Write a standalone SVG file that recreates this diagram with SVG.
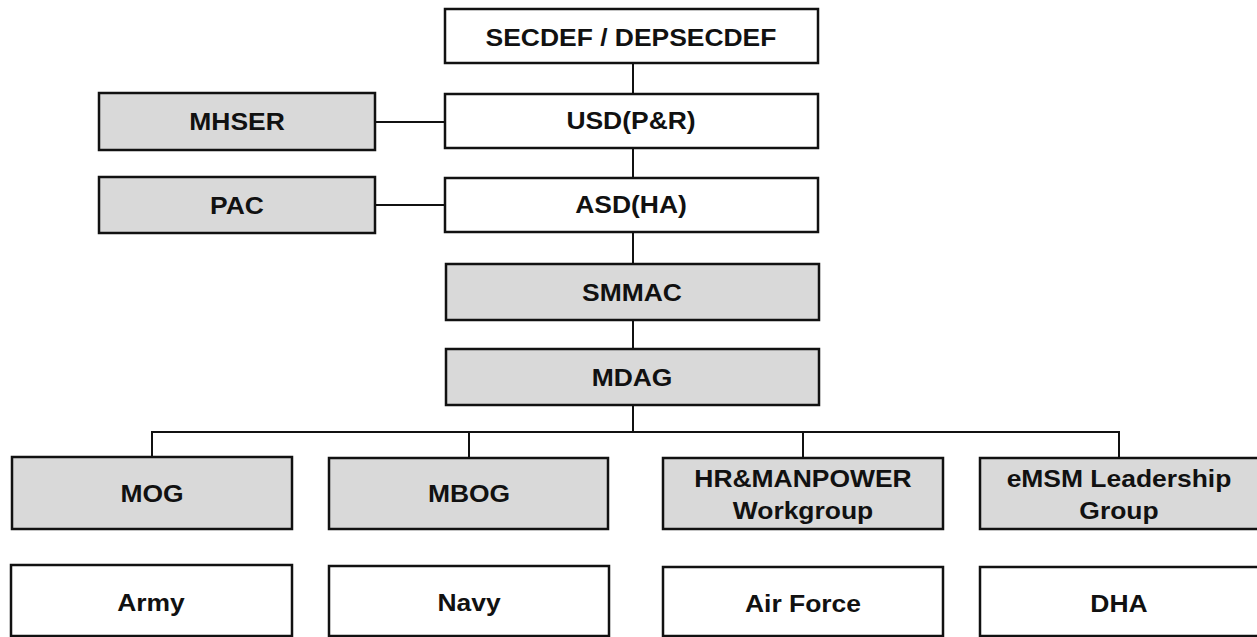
<svg xmlns="http://www.w3.org/2000/svg" width="1257" height="637" viewBox="0 0 1257 637">
<style>
.box{stroke:#111;stroke-width:2.5;}
.w{fill:#fff;}
.g{fill:#d9d9d9;}
.t{font-family:"Liberation Sans",Arial,sans-serif;font-weight:bold;font-size:23px;fill:#111;text-anchor:middle;}
.c{stroke:#111;stroke-width:2;fill:none;}
</style>
<rect width="1257" height="637" fill="#fff"/>
<g id="connectors">
<line class="c" x1="633" y1="63" x2="633" y2="94"/>
<line class="c" x1="633" y1="148" x2="633" y2="178"/>
<line class="c" x1="633" y1="232" x2="633" y2="264"/>
<line class="c" x1="633" y1="320" x2="633" y2="349"/>
<line class="c" x1="633" y1="405" x2="633" y2="432"/>
<line class="c" x1="375" y1="122" x2="445" y2="122"/>
<line class="c" x1="375" y1="205" x2="445" y2="205"/>
<polyline class="c" points="152,457 152,432 1119,432 1119,458"/>
<line class="c" x1="469" y1="432" x2="469" y2="458"/>
<line class="c" x1="803" y1="432" x2="803" y2="458"/>
</g>
<g id="secdef"><rect class="box w" x="445" y="9" width="373" height="54"/><text class="t" transform="translate(631,46) scale(1.15,1)">SECDEF / DEPSECDEF</text></g>
<g id="usd"><rect class="box w" x="445" y="94" width="373" height="54"/><text class="t" transform="translate(631,129) scale(1.15,1)">USD(P&amp;R)</text></g>
<g id="asd"><rect class="box w" x="445" y="178" width="373" height="54"/><text class="t" transform="translate(631,213) scale(1.15,1)">ASD(HA)</text></g>
<g id="mhser"><rect class="box g" x="99" y="93" width="276" height="57"/><text class="t" transform="translate(237,130) scale(1.15,1)">MHSER</text></g>
<g id="pac"><rect class="box g" x="99" y="177" width="276" height="56"/><text class="t" transform="translate(237,214) scale(1.15,1)">PAC</text></g>
<g id="smmac"><rect class="box g" x="446" y="264" width="373" height="56"/><text class="t" transform="translate(632,301) scale(1.15,1)">SMMAC</text></g>
<g id="mdag"><rect class="box g" x="446" y="349" width="373" height="56"/><text class="t" transform="translate(632,386) scale(1.15,1)">MDAG</text></g>
<g id="mog"><rect class="box g" x="12" y="457" width="280" height="72"/><text class="t" transform="translate(152,502) scale(1.15,1)">MOG</text></g>
<g id="mbog"><rect class="box g" x="329" y="458" width="279" height="71"/><text class="t" transform="translate(469,502) scale(1.15,1)">MBOG</text></g>
<g id="hr"><rect class="box g" x="663" y="458" width="280" height="71"/><text class="t" transform="translate(803,487) scale(1.15,1)">HR&amp;MANPOWER</text><text class="t" transform="translate(803,519) scale(1.15,1)">Workgroup</text></g>
<g id="emsm"><rect class="box g" x="980" y="458" width="280" height="71"/><text class="t" transform="translate(1119,487) scale(1.15,1)">eMSM Leadership</text><text class="t" transform="translate(1119,519) scale(1.15,1)">Group</text></g>
<g id="army"><rect class="box w" x="11" y="565" width="281" height="71"/><text class="t" transform="translate(151,611) scale(1.15,1)">Army</text></g>
<g id="navy"><rect class="box w" x="329" y="566" width="280" height="70"/><text class="t" transform="translate(469,611) scale(1.15,1)">Navy</text></g>
<g id="airforce"><rect class="box w" x="663" y="567" width="280" height="69"/><text class="t" transform="translate(803,612) scale(1.15,1)">Air Force</text></g>
<g id="dha"><rect class="box w" x="980" y="567" width="280" height="69"/><text class="t" transform="translate(1119,612) scale(1.15,1)">DHA</text></g>
</svg>
